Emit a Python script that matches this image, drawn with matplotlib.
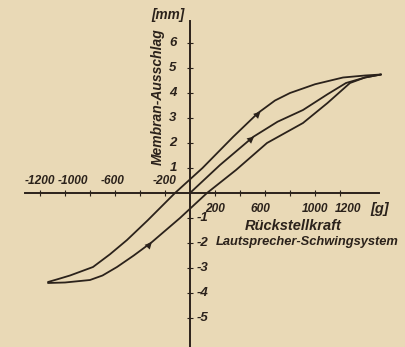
import matplotlib
matplotlib.use("Agg")
import matplotlib.pyplot as plt

# force in g, displacement in mm
upper_x = [-1136, -1060, -960, -776, -640, -504, -340, -176, -120, 100, 344, 544, 680, 800, 1000, 1224, 1400, 1528]
upper_y = [-3.56, -3.45, -3.3, -2.96, -2.45, -1.88, -1.1, -0.28, 0.0, 1.0, 2.24, 3.2, 3.7, 4.0, 4.35, 4.62, 4.7, 4.74]

lower_x = [-1136, -1000, -800, -700, -584, -450, -304, -80, 136, 368, 616, 904, 1100, 1280, 1400, 1528]
lower_y = [-3.6, -3.58, -3.48, -3.3, -2.96, -2.5, -1.96, -1.0, 0.0, 0.92, 2.0, 2.8, 3.6, 4.4, 4.62, 4.74]

virgin_x = [0, 240, 504, 700, 904, 1100, 1248, 1400, 1528]
virgin_y = [0.0, 1.12, 2.24, 2.85, 3.32, 3.95, 4.4, 4.62, 4.74]

x_ticks = [-1200, -1000, -800, -600, -400, -200, 200, 400, 600, 800, 1000, 1200]
x_labels_left = [-1200, -1000, -600, -200]
x_labels_right = [200, 600, 1000, 1200]
y_ticks = [-5, -4, -3, -2, -1, 1, 2, 3, 4, 5, 6]

# small nudges (points) so the hand-lettered labels sit like in the scan
x_label_nudge = {-1200: 0, -1000: 6, -600: -2, -200: 0, 200: 0, 600: -3, 1000: 0, 1200: 6}

PAPER = "#e9d9b6"
INK = "#2b221b"
FONT = ["Liberation Sans", "DejaVu Sans"]
txt = dict(color=INK, fontstyle="italic", fontweight="bold", family=FONT)

fig = plt.figure(figsize=(4.06, 3.47), dpi=100, facecolor=PAPER)
ax = fig.add_axes([0, 0, 1, 1], facecolor=PAPER)
ax.set_xlim(-1520, 1728)
ax.set_ylim(-6.16, 7.72)

for s in ("top", "right"):
    ax.spines[s].set_visible(False)
ax.spines["left"].set_position(("data", 0))
ax.spines["bottom"].set_position(("data", 0))
ax.spines["left"].set_bounds(-6.2, 6.9)
ax.spines["bottom"].set_bounds(-1320, 1512)
for s in ("left", "bottom"):
    ax.spines[s].set_color(INK)
    ax.spines[s].set_linewidth(1.4)

ax.set_xticks(x_ticks)
ax.set_yticks(y_ticks)
ax.set_xticklabels([])
ax.set_yticklabels([])
ax.tick_params(direction="inout", length=4, width=0.8, color=INK)

for xs, ys in [(upper_x, upper_y), (lower_x, lower_y), (virgin_x, virgin_y)]:
    ax.plot(xs, ys, color=INK, lw=1.3, solid_capstyle="round", solid_joinstyle="round")

# direction arrows on the branches
for (x0, y0, x1, y1) in [(540, 3.14, 580, 3.34), (490, 2.16, 530, 2.33), (-330, -2.1, -290, -1.88)]:
    ax.annotate("", xy=(x1, y1), xytext=(x0, y0),
                arrowprops=dict(arrowstyle="-|>,head_length=0.5,head_width=0.25", color=INK, lw=0))

# tick labels
for v in x_labels_left:
    ax.annotate(str(v), (v, 0.5), xytext=(x_label_nudge[v], 0), textcoords="offset points",
                ha="center", va="center", fontsize=8.6, **txt)
for v in x_labels_right:
    ax.annotate(str(v), (v, -0.62), xytext=(x_label_nudge[v], 0), textcoords="offset points",
                ha="center", va="center", fontsize=8.6, **txt)
for v in y_ticks:
    if v > 0:
        ax.text(-136, v, str(v), ha="center", va="center", fontsize=9.5, **txt)
    else:
        ax.text(55, v, "-" + str(-v), ha="left", va="center", fontsize=9.5, **txt)

ax.text(1520, -0.62, "[g]", ha="center", va="center", fontsize=10.5, **txt)
ax.text(-176, 7.12, "[mm]", ha="center", va="center", fontsize=9.8, **txt)
ax.text(-256, 3.84, "Membran-Ausschlag", rotation=90, ha="center", va="center", fontsize=10, **txt)
ax.text(824, -1.32, "Rückstellkraft", ha="center", va="center", fontsize=10.5, **txt)
ax.text(208, -1.98, "Lautsprecher-Schwingsystem", ha="left", va="center", fontsize=9.3, **txt)

fig.savefig("out.png", dpi=100, facecolor=PAPER)
